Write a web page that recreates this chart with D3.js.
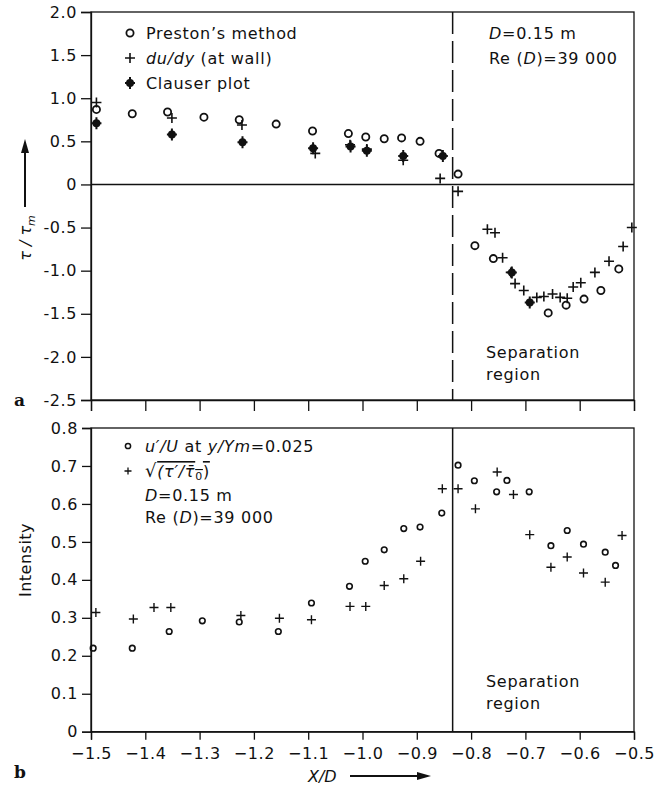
<!DOCTYPE html>
<html><head><meta charset="utf-8">
<script src="https://cdn.jsdelivr.net/npm/d3@7"></script>
<style>
body{margin:0;background:#fff;}
svg text{font-family:"DejaVu Sans",sans-serif;fill:#111;}
</style></head>
<body>
<svg id="c" width="664" height="790"></svg>
<script>
// ---------- DATA ----------
// Panel a: wall shear stress tau/tau_m vs X/D
const prestonX = [-1.49,-1.424,-1.359,-1.292,-1.227,-1.159,-1.092,-1.026,-0.994,-0.960,-0.928,-0.894,-0.859,-0.824,-0.793,-0.759,-0.658,-0.625,-0.592,-0.561,-0.528];
const prestonY = [0.87,0.82,0.84,0.78,0.75,0.70,0.62,0.59,0.55,0.53,0.54,0.50,0.36,0.12,-0.71,-0.86,-1.49,-1.40,-1.33,-1.23,-0.98];
const dudyX = [-1.49,-1.351,-1.222,-1.087,-1.023,-0.992,-0.925,-0.857,-0.824,-0.770,-0.756,-0.742,-0.727,-0.719,-0.703,-0.679,-0.666,-0.650,-0.636,-0.623,-0.612,-0.598,-0.572,-0.546,-0.520,-0.504];
const dudyY = [0.95,0.77,0.69,0.36,0.46,0.41,0.28,0.07,-0.08,-0.52,-0.56,-0.85,-1.02,-1.15,-1.23,-1.31,-1.30,-1.27,-1.31,-1.32,-1.19,-1.14,-1.02,-0.89,-0.72,-0.50];
const clauserX = [-1.49,-1.351,-1.221,-1.091,-1.022,-0.992,-0.925,-0.852,-0.725,-0.692];
const clauserY = [0.71,0.58,0.49,0.42,0.44,0.39,0.33,0.33,-1.02,-1.37];
// Panel b: intensity vs X/D
const uPrimeX = [-1.496,-1.424,-1.356,-1.295,-1.227,-1.155,-1.094,-1.024,-0.995,-0.960,-0.924,-0.894,-0.854,-0.824,-0.794,-0.753,-0.734,-0.693,-0.653,-0.623,-0.593,-0.553,-0.534];
const uPrimeY = [0.22,0.22,0.264,0.292,0.289,0.264,0.339,0.383,0.449,0.479,0.535,0.539,0.576,0.702,0.661,0.632,0.662,0.632,0.49,0.53,0.494,0.473,0.438];
const tauPrimeX = [-1.491,-1.422,-1.384,-1.353,-1.224,-1.153,-1.094,-1.023,-0.994,-0.960,-0.924,-0.893,-0.853,-0.824,-0.792,-0.752,-0.722,-0.692,-0.653,-0.623,-0.593,-0.553,-0.522];
const tauPrimeY = [0.314,0.297,0.327,0.327,0.306,0.299,0.295,0.33,0.33,0.385,0.403,0.449,0.64,0.64,0.587,0.684,0.625,0.519,0.433,0.46,0.418,0.394,0.517];
// axes / annotations
const xTicks = [-1.5,-1.4,-1.3,-1.2,-1.1,-1.0,-0.9,-0.8,-0.7,-0.6,-0.5];
const xTickLabels = ["−1.5","−1.4","−1.3","−1.2","−1.1","−1.0","−0.9","−0.8","−0.7","−0.6","−0.5"];
const yTopTicks = [2.0,1.5,1.0,0.5,0,-0.5,-1.0,-1.5,-2.0,-2.5];
const yTopLabels = ["2.0","1.5","1.0","0.5","0","-0.5","-1.0","-1.5","-2.0","-2.5"];
const yBotTicks = [0,0.1,0.2,0.3,0.4,0.5,0.6,0.7,0.8];
const yBotLabels = ["0","0.1","0.2","0.3","0.4","0.5","0.6","0.7","0.8"];
const separationX = -0.834;

// ---------- SCALES ----------
const svg = d3.select("#c");
const L = 91, R = 634;
const x = d3.scaleLinear([-1.5,-0.5],[L,R]);
const yA = d3.scaleLinear([-2.5,2.0],[400,12]);
const yB = d3.scaleLinear([0,0.8],[731.7,428]);
const ink = "#111";
const fs = 16, ls = "0.7px";

function styleAxis(a){
  a.select(".domain").attr("stroke",ink).attr("stroke-width",1.3);
  a.selectAll(".tick line").attr("stroke",ink).attr("stroke-width",1.3);
  a.selectAll("text").attr("font-size",16).attr("fill",ink).style("font-family","DejaVu Sans").style("letter-spacing","0.6px");
}

// ---------- PANEL A ----------
const gA = svg.append("g");
gA.append("rect").attr("x",L).attr("y",yA(2.0)).attr("width",R-L).attr("height",yA(-2.5)-yA(2.0))
  .attr("fill","none").attr("stroke",ink).attr("stroke-width",1.3);
gA.append("line").attr("x1",L).attr("x2",R).attr("y1",yA(0)).attr("y2",yA(0)).attr("stroke",ink).attr("stroke-width",1.6);
gA.append("line").attr("x1",x(separationX)).attr("x2",x(separationX)).attr("y1",yA(2.0)).attr("y2",yA(-2.5))
  .attr("stroke",ink).attr("stroke-width",1.5).attr("stroke-dasharray","22,7");
const axA = gA.append("g").attr("transform",`translate(${L},0)`)
  .call(d3.axisLeft(yA).tickValues(yTopTicks).tickSize(10).tickPadding(4).tickFormat((d,i)=>yTopLabels[i]));
const axAx = gA.append("g").attr("transform",`translate(0,${yA(-2.5)})`)
  .call(d3.axisBottom(x).tickValues(xTicks).tickSize(11).tickFormat(""));
styleAxis(axA); styleAxis(axAx);

function circles(g, xs, ys, yS, r, sw){
  g.append("g").selectAll("circle").data(xs.map((v,i)=>[v,ys[i]])).join("circle")
   .attr("cx",d=>x(d[0])).attr("cy",d=>yS(d[1])).attr("r",r)
   .attr("fill","none").attr("stroke",ink).attr("stroke-width",sw);
}
function crosses(g, xs, ys, yS, s, sw){
  g.append("g").selectAll("path").data(xs.map((v,i)=>[v,ys[i]])).join("path")
   .attr("d",d=>{const cx=x(d[0]),cy=yS(d[1]);return `M${cx-s},${cy}H${cx+s}M${cx},${cy-s}V${cy+s}`;})
   .attr("stroke",ink).attr("stroke-width",sw).attr("fill","none");
}
function clausers(g, xs, ys, yS){
  const gg = g.append("g").selectAll("g").data(xs.map((v,i)=>[v,ys[i]])).join("g")
   .attr("transform",d=>`translate(${x(d[0])},${yS(d[1])})`);
  gg.append("circle").attr("r",4).attr("fill",ink);
  gg.append("path").attr("d","M-5,0H5M0,-6V6").attr("stroke",ink).attr("stroke-width",2);
}
circles(gA, prestonX, prestonY, yA, 3.6, 1.8);
crosses(gA, dudyX, dudyY, yA, 5, 1.6);
clausers(gA, clauserX, clauserY, yA);

// legend A
const legA = gA.append("g");
legA.append("circle").attr("cx",130).attr("cy",33).attr("r",3.6).attr("fill","none").attr("stroke",ink).attr("stroke-width",1.8);
legA.append("path").attr("d","M125,58H135M130,53V63").attr("stroke",ink).attr("stroke-width",1.6);
const cl = legA.append("g").attr("transform","translate(130,83)");
cl.append("circle").attr("r",4).attr("fill",ink);
cl.append("path").attr("d","M-5,0H5M0,-6V6").attr("stroke",ink).attr("stroke-width",2);
function txt(g, xx, yy){ return g.append("text").attr("x",xx).attr("y",yy).attr("font-size",fs).style("letter-spacing",ls); }
txt(legA,146,39).text("Preston’s method");
const t2 = txt(legA,146,64);
t2.append("tspan").attr("font-style","italic").text("du/dy");
t2.append("tspan").text(" (at wall)");
txt(legA,146,89).text("Clauser plot");
const c1 = txt(gA,489,39);
c1.append("tspan").attr("font-style","italic").text("D");
c1.append("tspan").text("=0.15 m");
const c2 = txt(gA,489,64);
c2.append("tspan").text("Re (");
c2.append("tspan").attr("font-style","italic").text("D");
c2.append("tspan").text(")=39 000");
txt(gA,486,358).text("Separation");
txt(gA,486,380).text("region");
const yl = gA.append("text").attr("transform","translate(31,238) rotate(-90)").attr("text-anchor","middle").attr("font-size",16);
yl.append("tspan").attr("font-style","italic").text("τ / τ");
yl.append("tspan").attr("font-size",11).attr("dy",4).attr("font-style","italic").text("m");
gA.append("line").attr("x1",25).attr("x2",25).attr("y1",207).attr("y2",150).attr("stroke",ink).attr("stroke-width",2);
gA.append("path").attr("d","M25,139L21,153L29,153Z").attr("fill",ink);
gA.append("text").attr("x",14).attr("y",406).attr("font-size",17).attr("font-weight","bold").style("font-family","DejaVu Serif").text("a");

// ---------- PANEL B ----------
const gB = svg.append("g");
gB.append("rect").attr("x",L).attr("y",yB(0.8)).attr("width",R-L).attr("height",yB(0)-yB(0.8))
  .attr("fill","none").attr("stroke",ink).attr("stroke-width",1.3);
gB.append("line").attr("x1",x(separationX)).attr("x2",x(separationX)).attr("y1",yB(0.8)).attr("y2",yB(0))
  .attr("stroke",ink).attr("stroke-width",1.5);
const axB = gB.append("g").attr("transform",`translate(${L},0)`)
  .call(d3.axisLeft(yB).tickValues(yBotTicks).tickSize(9).tickPadding(4).tickFormat((d,i)=>yBotLabels[i]));
const axBx = gB.append("g").attr("transform",`translate(0,${yB(0)})`)
  .call(d3.axisBottom(x).tickValues(xTicks).tickSize(8).tickPadding(8).tickFormat((d,i)=>xTickLabels[i]));
styleAxis(axB); styleAxis(axBx);
circles(gB, uPrimeX, uPrimeY, yB, 2.8, 1.6);
crosses(gB, tauPrimeX, tauPrimeY, yB, 4.5, 1.4);

// legend B
const legB = gB.append("g");
legB.append("circle").attr("cx",128).attr("cy",446).attr("r",2.6).attr("fill","none").attr("stroke",ink).attr("stroke-width",1.5);
legB.append("path").attr("d","M124.5,471H131.5M128,467.5V474.5").attr("stroke",ink).attr("stroke-width",1.3);
const b1 = txt(legB,145,452);
b1.append("tspan").attr("font-style","italic").text("u′/U");
b1.append("tspan").text(" at ");
b1.append("tspan").attr("font-style","italic").text("y/Ym");
b1.append("tspan").text("=0.025");
const b2 = txt(legB,145,477);
b2.append("tspan").attr("font-size",18).text("√");
b2.append("tspan").attr("font-style","italic").style("text-decoration","overline").text("(τ′/τ̄");
b2.append("tspan").attr("font-size",11).attr("dy",3).style("text-decoration","overline").text("0");
b2.append("tspan").attr("dy",-3).style("text-decoration","overline").text(")");
const b3 = txt(legB,145,501);
b3.append("tspan").attr("font-style","italic").text("D");
b3.append("tspan").text("=0.15 m");
const b4 = txt(legB,145,523);
b4.append("tspan").text("Re (");
b4.append("tspan").attr("font-style","italic").text("D");
b4.append("tspan").text(")=39 000");
txt(gB,486,687).text("Separation");
txt(gB,486,709).text("region");
gB.append("text").attr("transform","translate(31,560) rotate(-90)").attr("text-anchor","middle").attr("font-size",16).style("letter-spacing","0.5px").text("Intensity");
gB.append("text").attr("x",308).attr("y",782).attr("font-size",16).attr("font-style","italic").text("X/D");
gB.append("line").attr("x1",350).attr("x2",420).attr("y1",776).attr("y2",776).attr("stroke",ink).attr("stroke-width",2);
gB.append("path").attr("d","M431,776L417,772L417,780Z").attr("fill",ink);
gB.append("text").attr("x",14).attr("y",778).attr("font-size",17).attr("font-weight","bold").style("font-family","DejaVu Serif").text("b");
</script>
</body></html>
